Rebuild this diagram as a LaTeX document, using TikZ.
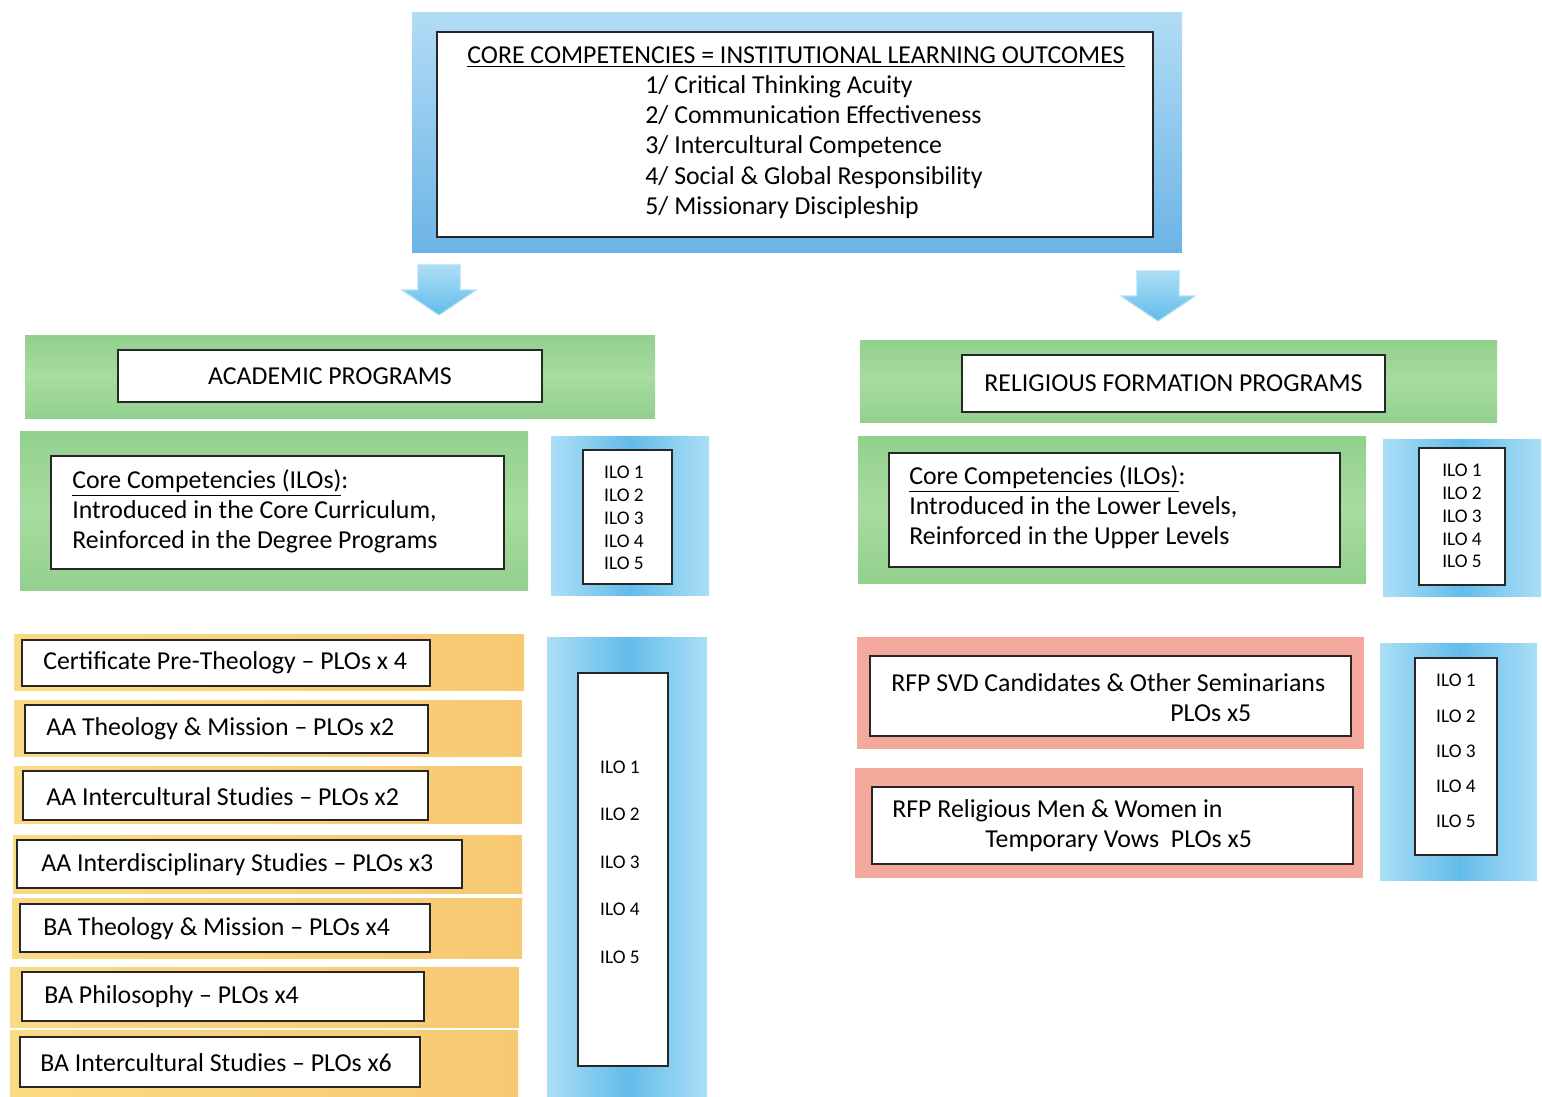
\documentclass[tikz,border=0pt]{standalone}
\usepackage{fontspec}
\setmainfont{Carlito}
\usetikzlibrary{positioning}
\definecolor{bluelight}{RGB}{172,222,246}
\definecolor{bluemid}{RGB}{98,188,234}
\definecolor{bluetop}{RGB}{178,220,245}
\definecolor{bluebottom}{RGB}{108,180,230}
\definecolor{greenedge}{RGB}{146,208,142}
\definecolor{greenmid}{RGB}{168,220,160}
\definecolor{orangeleft}{RGB}{251,218,132}
\definecolor{orangeright}{RGB}{247,201,115}
\definecolor{pinkfill}{RGB}{243,170,156}
\newcommand*{\blockbox}[6]{%
\node[#1, anchor=north west,
	minimum width={(#5-#3)*0.02cm},
	minimum height={(#6-#4)*0.02cm}] (#2) at (#3,#4) {};
}
\newcommand*{\blockarrow}[3]{%
\coordinate (#1) at (#2,#3);
\path[downarrow] (#1) -- ++(-37,-25) -- ++(16,0) -- ++(0,-25) -- ++(42,0)
	-- ++(0,25) -- ++(16,0) -- cycle;
}

\begin{document}
\begin{tikzpicture}[x=0.02cm, y=-0.02cm]
		\tikzset{
			basefont/.style = {font = \fontsize{14.7}{17}\selectfont},
			ilofont/.style = {font = \fontsize{11}{13}\selectfont},
			frame/.style = {inner sep = 0pt, outer sep = 0pt},
			topframe/.style = {frame, top color = bluetop, bottom color = bluebottom},
			iloframe/.style = {frame, left color = bluelight, right color = bluelight, middle color = bluemid},
			greenframe/.style = {frame, top color = greenedge, bottom color = greenedge, middle color = greenmid},
			orangeframe/.style = {frame, left color = orangeleft, right color = orangeright},
			pinkframe/.style = {frame, fill = pinkfill},
			innerbox/.style = {frame, fill = white, draw = black!85, line width = 1.3pt},
			label/.style = {basefont, inner sep = 0pt, align = left},
			ilolabel/.style = {ilofont, inner sep = 0pt, align = center},
			downarrow/.style = {top color = bluelight, bottom color = bluemid, draw = bluelight, line width = 0.6pt},
		};
		\useasboundingbox (0,0) rectangle (1542,1096);

		\blockbox{topframe}{ccframe}{412}{12}{1182}{252}
		\blockbox{innerbox}{ccbox}{437}{32}{1153}{237}
		\node[label, anchor = west] (cctitle) at (467,57) {\underline{CORE COMPETENCIES = INSTITUTIONAL LEARNING OUTCOMES}};
		\node[label, anchor = west] (cclist) at (645,147) {1/ Critical Thinking Acuity\\[0.2pt]
			2/ Communication Effectiveness\\[0.2pt]
			3/ Intercultural Competence\\[0.2pt]
			4/ Social \& Global Responsibility\\[0.2pt]
			5/ Missionary Discipleship};

		\blockarrow{arrowL}{439}{315}
		\blockarrow{arrowR}{1158}{321}

		\blockbox{greenframe}{acadframe}{25}{335}{655}{418}
		\blockbox{innerbox}{acadbox}{118}{350}{542}{402}
		\node[label] (acadtitle) at (acadbox) {ACADEMIC PROGRAMS};

		\blockbox{greenframe}{relframe}{860}{340}{1497}{422}
		\blockbox{innerbox}{relbox}{962}{355}{1385}{412}
		\node[label] (reltitle) at (relbox) {RELIGIOUS FORMATION PROGRAMS};

		\blockbox{greenframe}{coreframeL}{20}{431}{528}{590}
		\blockbox{innerbox}{coreboxL}{51}{456}{504}{569}
		\node[label, anchor = west] (coretextL) at (72,511) {\underline{Core Competencies (ILOs)}:\\
			Introduced in the Core Curriculum,\\
			Reinforced in the Degree Programs};

		\blockbox{iloframe}{iloframeL}{551}{436}{709}{595}
		\blockbox{innerbox}{iloboxL}{583}{450}{672}{584}
		\node[ilolabel] (ilotextL) at (624,518) {ILO 1\\ILO 2\\ILO 3\\ILO 4\\ILO 5};

		\blockbox{greenframe}{coreframeR}{858}{436}{1366}{583}
		\blockbox{innerbox}{coreboxR}{889}{453}{1340}{567}
		\node[label, anchor = west] (coretextR) at (909,507) {\underline{Core Competencies (ILOs)}:\\
			Introduced in the Lower Levels,\\
			Reinforced in the Upper Levels};

		\blockbox{iloframe}{iloframeR}{1383}{439}{1541}{596}
		\blockbox{innerbox}{iloboxR}{1419}{448}{1505}{585}
		\node[ilolabel] (ilotextR) at (1462,516) {ILO 1\\ILO 2\\ILO 3\\ILO 4\\ILO 5};

		\blockbox{orangeframe}{progframe1}{14}{634}{524}{690}
		\blockbox{innerbox}{progbox1}{22}{640}{430}{686}
		\node[label, anchor = west] (prog1) at (43,663) {Certificate Pre-Theology -- PLOs x 4};
		\blockbox{orangeframe}{progframe2}{14}{700}{522}{756}
		\blockbox{innerbox}{progbox2}{25}{705}{428}{753}
		\node[label, anchor = west] (prog2) at (46,729) {AA Theology \& Mission -- PLOs x2};
		\blockbox{orangeframe}{progframe3}{14}{766}{522}{823}
		\blockbox{innerbox}{progbox3}{23}{771}{428}{820}
		\node[label, anchor = west] (prog3) at (46,797) {AA Intercultural Studies -- PLOs x2};
		\blockbox{orangeframe}{progframe4}{13}{835}{522}{893}
		\blockbox{innerbox}{progbox4}{17}{840}{462}{888}
		\node[label, anchor = west] (prog4) at (41,865) {AA Interdisciplinary Studies -- PLOs x3};
		\blockbox{orangeframe}{progframe5}{12}{898}{522}{958}
		\blockbox{innerbox}{progbox5}{20}{904}{430}{952}
		\node[label, anchor = west] (prog5) at (43,929) {BA Theology \& Mission -- PLOs x4};
		\blockbox{orangeframe}{progframe6}{10}{967}{519}{1027}
		\blockbox{innerbox}{progbox6}{22}{972}{424}{1021}
		\node[label, anchor = west] (prog6) at (44,997) {BA Philosophy -- PLOs x4};
		\blockbox{orangeframe}{progframe7}{10}{1030}{518}{1096}
		\blockbox{innerbox}{progbox7}{20}{1037}{420}{1087}
		\node[label, anchor = west] (prog7) at (40,1063) {BA Intercultural Studies -- PLOs x6};

		\blockbox{iloframe}{iloframeB}{547}{637}{707}{1096}
		\blockbox{innerbox}{iloboxB}{578}{673}{668}{1066}
		\node[ilolabel] (ilotextB) at (620,862) {ILO 1\\[14pt]ILO 2\\[14pt]ILO 3\\[14pt]ILO 4\\[14pt]ILO 5};

		\blockbox{pinkframe}{rfpframe1}{857}{637}{1364}{749}
		\blockbox{innerbox}{rfpbox1}{870}{656}{1351}{736}
		\node[label, anchor = west] (rfp1a) at (891,683) {RFP SVD Candidates \& Other Seminarians};
		\node[label, anchor = west] (rfp1b) at (1170,713) {PLOs x5};
		\blockbox{pinkframe}{rfpframe2}{855}{768}{1363}{878}
		\blockbox{innerbox}{rfpbox2}{872}{787}{1353}{864}
		\node[label, anchor = west] (rfp2a) at (892,811) {RFP Religious Men \& Women in};
		\node[label, anchor = west] (rfp2b) at (985,841) {Temporary Vows\ \ PLOs x5};

		\blockbox{iloframe}{iloframeC}{1380}{643}{1537}{880}
		\blockbox{innerbox}{iloboxC}{1415}{658}{1497}{855}
		\node[ilolabel] (ilotextC) at (1456,751) {ILO 1\\[7pt]ILO 2\\[7pt]ILO 3\\[7pt]ILO 4\\[7pt]ILO 5};
	\end{tikzpicture}
\end{document}
